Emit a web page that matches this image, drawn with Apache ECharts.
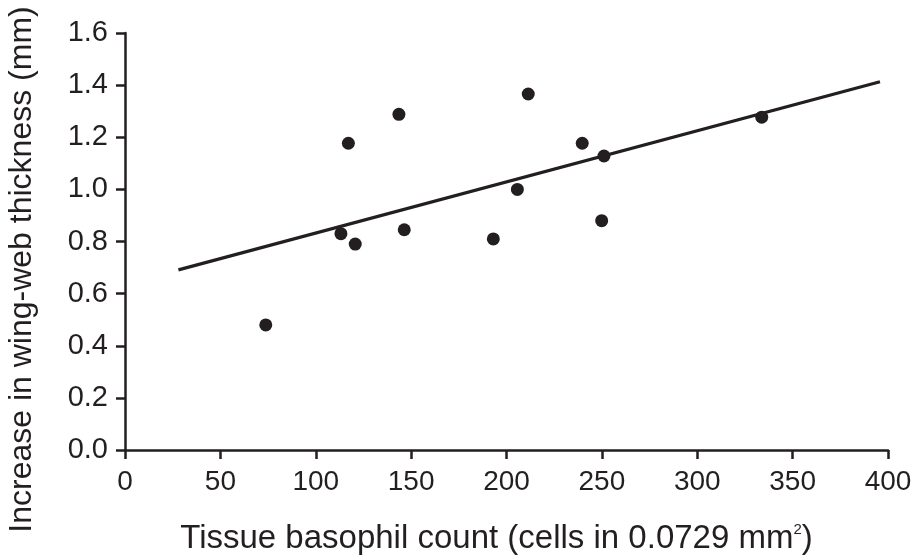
<!DOCTYPE html>
<html>
<head>
<meta charset="utf-8">
<script src="https://cdn.jsdelivr.net/npm/echarts@6/dist/echarts.min.js"></script>
<style>html,body{margin:0;padding:0;background:#fff}#c{width:919px;height:559px}</style>
</head>
<body>
<div id="c"></div>
<script>
const basophilCount = [73.8, 113.2, 117.1, 120.7, 143.6, 146.4, 193.1, 205.7, 211.4, 239.7, 249.9, 251.1, 333.8];
const thicknessIncrease = [0.48, 0.83, 1.177, 0.79, 1.288, 0.845, 0.81, 1.0, 1.366, 1.177, 0.88, 1.128, 1.277];
const fitX = [28, 395.8];
const fitY = [0.691, 1.413];
const xTicks = [0, 50, 100, 150, 200, 250, 300, 350, 400];
const yTicks = [0.0, 0.2, 0.4, 0.6, 0.8, 1.0, 1.2, 1.4, 1.6];

const ink = '#231f20';
const font = 'Liberation Sans, Arial, sans-serif';
const chart = echarts.init(document.getElementById('c'));
chart.setOption({
  animation: false,
  backgroundColor: '#fff',
  grid: {left: 125, right: 31, top: 33, bottom: 109, containLabel: false, outerBoundsMode: 'none'},
  xAxis: {
    type: 'value', min: xTicks[0], max: xTicks[xTicks.length - 1], interval: 50,
    splitLine: {show: false},
    axisLine: {show: true, onZero: false, lineStyle: {color: ink, width: 2.5}},
    axisTick: {show: true, length: 9, lineStyle: {color: ink, width: 2.5}},
    axisLabel: {color: ink, fontFamily: font, fontSize: 28, margin: 18},
    name: '{t|Tissue basophil count (cells in 0.0729 mm}{s|2}{t|)}',
    nameLocation: 'middle', nameGap: 72,
    nameTextStyle: {padding: [0, 20, 0, 0], rich: {
      t: {fontFamily: font, fontSize: 33, color: ink},
      s: {fontFamily: font, fontSize: 15, color: ink, verticalAlign: 'top', padding: [0, 0, 14, 0]}
    }}
  },
  yAxis: {
    type: 'value', min: yTicks[0], max: yTicks[yTicks.length - 1], interval: 0.2,
    splitLine: {show: false},
    axisLine: {show: true, onZero: false, lineStyle: {color: ink, width: 2.5}},
    axisTick: {show: true, length: 9, lineStyle: {color: ink, width: 2.5}},
    axisLabel: {color: ink, fontFamily: font, fontSize: 29, margin: 17,
      formatter: v => v.toFixed(1)},
    name: 'Increase in wing-web thickness (mm)',
    nameLocation: 'middle', nameGap: 87,
    nameTextStyle: {color: ink, fontFamily: font, fontSize: 32, padding: [0, 56, 0, 0]}
  },
  series: [
    {
      type: 'line', data: fitX.map((x, i) => [x, fitY[i]]),
      symbol: 'none', lineStyle: {color: ink, width: 3.2}, z: 2
    },
    {
      type: 'scatter', data: basophilCount.map((x, i) => [x, thicknessIncrease[i]]),
      symbol: 'circle', symbolSize: 13, itemStyle: {color: ink, opacity: 1}, z: 3
    }
  ]
});
</script>
</body>
</html>
